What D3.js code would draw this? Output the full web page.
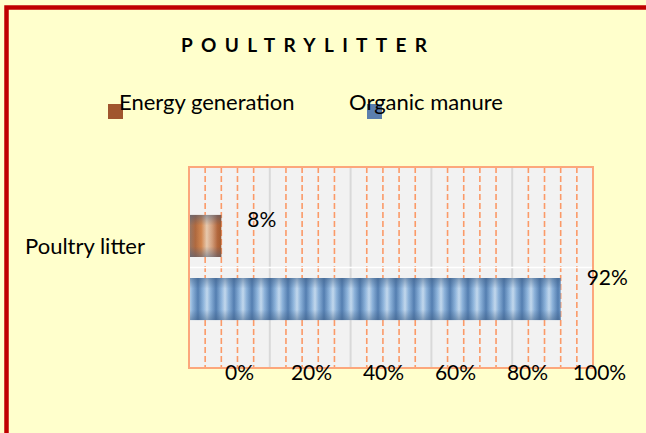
<!DOCTYPE html>
<html>
<head>
<meta charset="utf-8">
<script src="https://cdn.jsdelivr.net/npm/d3@7"></script>
<style>
  html, body { margin: 0; padding: 0; background: #ffffff; }
  svg { display: block; font-family: Lato, "Open Sans", sans-serif; }
</style>
</head>
<body>
<div id="chart"></div>
<script>
// Chart data
const title = "POULTRYLITTER";
const categories = ["Poultry litter"];
const seriesNames = ["Energy generation", "Organic manure"];
const seriesValues = [0.08, 0.92];
const tickValues = [0, 0.2, 0.4, 0.6, 0.8, 1];

// Constant dimensions
const width = 646, height = 433;
const plot = { left: 189, right: 593, top: 167, bottom: 368 };

const svg = d3.select("#chart").append("svg")
    .attr("width", width)
    .attr("height", height);

const defs = svg.append("defs");

// Striped fills for the bars
const blue = defs.append("linearGradient")
    .attr("id", "blueStripes")
    .attr("gradientUnits", "userSpaceOnUse")
    .attr("x1", 0).attr("x2", 18).attr("y1", 0).attr("y2", 0)
    .attr("spreadMethod", "repeat");
[["0", "#5580b3"], ["0.3", "#93b9e0"], ["0.5", "#c9def2"], ["0.7", "#8fb5dd"], ["1", "#5580b3"]]
    .forEach(function(s) { blue.append("stop").attr("offset", s[0]).attr("stop-color", s[1]); });

const brown = defs.append("linearGradient")
    .attr("id", "brownStripes")
    .attr("x1", 0).attr("x2", 1).attr("y1", 0).attr("y2", 0);
[["0", "#9a7a68"], ["0.2", "#b56a3c"], ["0.38", "#d9884c"], ["0.55", "#f0cfb0"], ["0.72", "#d9a07a"], ["0.88", "#b8683a"], ["1", "#a85a2a"]]
    .forEach(function(s) { brown.append("stop").attr("offset", s[0]).attr("stop-color", s[1]); });

const shade = defs.append("linearGradient")
    .attr("id", "shade")
    .attr("x1", 0).attr("x2", 0).attr("y1", 0).attr("y2", 1);
[["0", "#3b5a80", 0.5], ["0.25", "#3b5a80", 0.05], ["0.75", "#3b5a80", 0.05], ["1", "#3b5a80", 0.5]]
    .forEach(function(s) {
        shade.append("stop").attr("offset", s[0]).attr("stop-color", s[1]).attr("stop-opacity", s[2]);
    });

// Page background and red frame
svg.append("rect")
    .attr("width", width).attr("height", height)
    .attr("fill", "#ffffcc");
svg.append("rect")
    .attr("x", 6.5).attr("y", 7.5)
    .attr("width", width + 20).attr("height", height + 20)
    .attr("fill", "none")
    .attr("stroke", "#c00000")
    .attr("stroke-width", 4.5);

// Title
svg.append("text")
    .attr("x", 181).attr("y", 52)
    .attr("font-size", 19)
    .attr("font-weight", "bold")
    .attr("textLength", 246)
    .attr("lengthAdjust", "spacing")
    .attr("fill", "#000")
    .text(title);

// Scales
const x = d3.scaleLinear().domain([0, 1]).range([plot.left, plot.right]);
const labelX = d3.scaleLinear().domain([0, 1]).range([239, 599]);
const y = d3.scaleBand()
    .domain(seriesNames)
    .range([plot.top, plot.bottom])
    .paddingInner(0.333)
    .paddingOuter(0.76);
const color = d3.scaleOrdinal()
    .domain(seriesNames)
    .range(["url(#brownStripes)", "url(#blueStripes)"]);
const swatch = d3.scaleOrdinal()
    .domain(seriesNames)
    .range(["#a0562e", "#5b7fae"]);

// Legend
const legendX = [119, 349];
const legend = svg.append("g")
    .selectAll("g")
    .data(seriesNames)
    .join("g")
    .attr("transform", function(d, i) { return `translate(${legendX[i]},110)`; });
legend.append("rect")
    .attr("x", function(d, i) { return i === 0 ? -11 : 18; })
    .attr("y", -6)
    .attr("width", 15).attr("height", 15)
    .attr("fill", function(d) { return swatch(d); });
legend.append("text")
    .attr("font-size", 22)
    .attr("fill", "#000")
    .text(function(d) { return d; });

// Plot area
svg.append("rect")
    .attr("x", plot.left).attr("y", plot.top)
    .attr("width", plot.right - plot.left).attr("height", plot.bottom - plot.top)
    .attr("fill", "#f2f2f2");

// Major gridlines --- solid grey
svg.append("g")
    .selectAll("line")
    .data(tickValues.slice(1, -1))
    .join("line")
    .attr("x1", function(d) { return x(d); }).attr("x2", function(d) { return x(d); })
    .attr("y1", plot.top).attr("y2", plot.bottom)
    .attr("stroke", "#d9d9d9")
    .attr("stroke-width", 2);

// Minor gridlines --- dashed orange every 4%
const minor = d3.range(1, 25).map(function(i) { return i * 0.04; })
    .filter(function(d) { return Math.round(d * 100) % 20 !== 0; });
svg.append("g")
    .selectAll("line")
    .data(minor)
    .join("line")
    .attr("x1", function(d) { return x(d); }).attr("x2", function(d) { return x(d); })
    .attr("y1", plot.top).attr("y2", plot.bottom)
    .attr("stroke", "#fb9a68")
    .attr("stroke-width", 1.6)
    .attr("stroke-dasharray", "6,3");

// Faint divider across the middle
svg.append("line")
    .attr("x1", plot.left).attr("x2", plot.right)
    .attr("y1", (plot.top + plot.bottom) / 2).attr("y2", (plot.top + plot.bottom) / 2)
    .attr("stroke", "#ffffff")
    .attr("stroke-width", 1.5);

// Bars
const bars = svg.append("g")
    .selectAll("g")
    .data(seriesNames)
    .join("g");
bars.append("rect")
    .attr("x", x(0))
    .attr("y", function(d) { return y(d); })
    .attr("width", function(d, i) { return x(seriesValues[i]) - x(0); })
    .attr("height", y.bandwidth())
    .attr("fill", function(d) { return color(d); });
bars.append("rect")
    .attr("x", x(0))
    .attr("y", function(d) { return y(d); })
    .attr("width", function(d, i) { return x(seriesValues[i]) - x(0); })
    .attr("height", y.bandwidth())
    .attr("fill", "url(#shade)");

// Plot border
svg.append("rect")
    .attr("x", plot.left).attr("y", plot.top)
    .attr("width", plot.right - plot.left).attr("height", plot.bottom - plot.top)
    .attr("fill", "none")
    .attr("stroke", "#fca77c")
    .attr("stroke-width", 2);

// Value labels
svg.append("g")
    .selectAll("text")
    .data(seriesNames)
    .join("text")
    .attr("x", function(d, i) { return x(seriesValues[i]) + 26; })
    .attr("y", function(d, i) { return y(d) + (i === 0 ? 12 : 7); })
    .attr("font-size", 21)
    .attr("fill", "#000")
    .text(function(d, i) { return d3.format(".0%")(seriesValues[i]); });

// Category label
svg.append("text")
    .attr("x", 145).attr("y", 254)
    .attr("text-anchor", "end")
    .attr("font-size", 22)
    .attr("fill", "#000")
    .text(categories[0]);

// Axis labels
const axis = svg.append("g")
    .attr("transform", `translate(0,${plot.bottom})`)
    .call(d3.axisBottom(labelX)
        .tickValues(tickValues)
        .tickSize(0)
        .tickPadding(-3)
        .tickFormat(d3.format(".0%")));
axis.select(".domain").remove();
axis.selectAll("text")
    .attr("font-size", 21)
    .attr("font-family", "Lato, 'Open Sans', sans-serif")
    .attr("fill", "#000");
</script>
</body>
</html>
